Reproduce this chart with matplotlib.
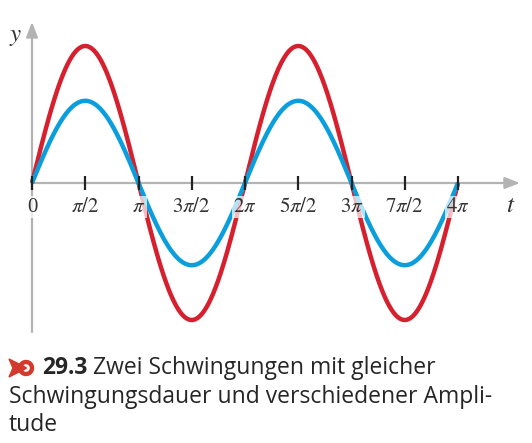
import numpy as np
import matplotlib
matplotlib.use("Agg")
import matplotlib.pyplot as plt
from matplotlib.patches import Polygon, Circle, Wedge

plt.rcParams['mathtext.fontset'] = 'stix'

# data
amplitudes = [1.0, 0.6]          # red, blue
colors = ["#d6202e", "#0a9fdc"]
t_end = 4 * np.pi
tick_pos = [k * np.pi / 2 for k in range(9)]
tick_labels = ["0", r"$\pi/2$", r"$\pi$", r"$3\pi/2$", r"$2\pi$",
               r"$5\pi/2$", r"$3\pi$", r"$7\pi/2$", r"$4\pi$"]
caption_num = "29.3"
caption_lines = ["Zwei Schwingungen mit gleicher",
                 "Schwingungsdauer und verschiedener Ampli-",
                 "tude"]

W, H = 532, 443
fig = plt.figure(figsize=(W / 100, H / 100), dpi=100)

# axes mapped so that t=0 -> px 32, pi -> 106.5 px, y=0 -> px 183, 1 -> 137 px
px_pi = 106.5
x0, y0, py = 32, 183, 137
ax_bottom_px = 340
ax = fig.add_axes([0, 1 - ax_bottom_px / H, 1, ax_bottom_px / H])
ax.set_xlim(-x0 / px_pi * np.pi, (W - x0) / px_pi * np.pi)
ax.set_ylim((y0 - ax_bottom_px) / py, y0 / py)
ax.axis("off")

def px2x(p):
    return (p - x0) / px_pi * np.pi

def px2y(p):
    return (y0 - p) / py

axis_col = "#b3b3b3"
# x axis
ax.annotate("", xy=(px2x(520), 0), xytext=(0, 0),
            arrowprops=dict(arrowstyle="-|>,head_length=0.9,head_width=0.35",
                            color=axis_col, lw=1.6, shrinkA=0, shrinkB=0),
            zorder=1)
# y axis
ax.annotate("", xy=(0, px2y(22)), xytext=(0, px2y(332)),
            arrowprops=dict(arrowstyle="-|>,head_length=0.9,head_width=0.35",
                            color=axis_col, lw=1.6, shrinkA=0, shrinkB=0),
            zorder=1)

t = np.linspace(0, t_end, 800)
for a, c in zip(amplitudes, colors):
    ax.plot(t, a * np.sin(t), color=c, lw=3.2, solid_capstyle="butt", zorder=2)

ax.plot(tick_pos, [0] * len(tick_pos), ls="none", marker="|", ms=10,
        mew=1.6, color="#222222", zorder=3)

for x, lab in zip(tick_pos, tick_labels):
    ax.text(x, px2y(207), lab, ha="center", va="center", fontsize=15,
            family="Liberation Serif", color="#333333", zorder=4,
            bbox=dict(facecolor="white", edgecolor="none", alpha=0.7, pad=1))

ax.text(px2x(16), px2y(36), r"$y$", fontsize=18, ha="center", va="center",
        color="#333333")
ax.text(px2x(511), px2y(205), r"$t$", fontsize=18, ha="center", va="center",
        color="#333333")

# caption
cap_col = "#262626"
fs = 16.5
fam = "Open Sans"
renderer = fig.canvas.get_renderer()
num = fig.text(42 / W, 1 - 368 / H, caption_num, fontsize=fs, family=fam,
               weight="bold", color=cap_col, va="center")
bb = num.get_window_extent(renderer)
fig.text((bb.x1 + 6) / W, 1 - 368 / H, caption_lines[0], fontsize=fs,
         family=fam, color=cap_col, va="center")
fig.text(9 / W, 1 - 397 / H, caption_lines[1], fontsize=fs, family=fam,
         color=cap_col, va="center")
fig.text(9 / W, 1 - 425 / H, caption_lines[2], fontsize=fs, family=fam,
         color=cap_col, va="center")

# icon (red notched arrow + ring)
icon_col = "#d23a2e"
fax = fig.add_axes([0, 0, 1, 1], zorder=-1)
fax.set_xlim(0, W)
fax.set_ylim(H, 0)
fax.axis("off")
fax.add_patch(Polygon([(9, 359), (21, 365), (21, 371), (9, 377), (13, 368)],
                      closed=True, color=icon_col))
fax.add_patch(Wedge((26, 368), 7.5, 0, 360, width=3.0, color=icon_col))
fax.add_patch(Polygon([(21, 364.5), (26.5, 368), (21, 371.5)], closed=True,
                      color=icon_col))

fig.savefig("out.png", dpi=100)
